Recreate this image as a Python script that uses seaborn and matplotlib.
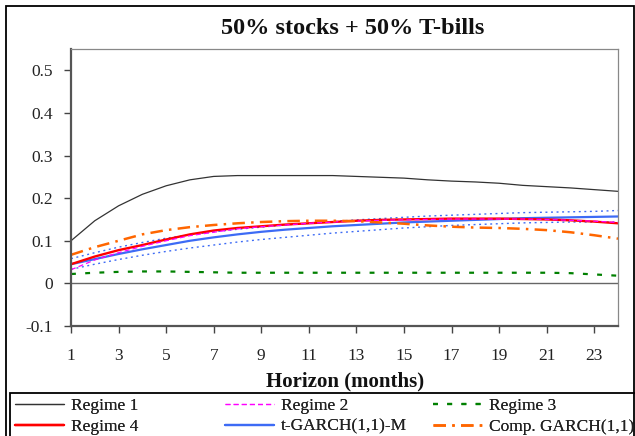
import matplotlib

matplotlib.use("Agg")

import matplotlib.pyplot as plt  # noqa: E402
import pandas as pd  # noqa: E402
import seaborn as sns  # noqa: E402
from matplotlib.patches import Rectangle  # noqa: E402

# Horizonte en meses
horizon = list(range(1, 25))

regime1 = [0.100, 0.147, 0.182, 0.209, 0.229, 0.243, 0.251, 0.253, 0.253, 0.253,
           0.253, 0.253, 0.251, 0.249, 0.247, 0.243, 0.240, 0.238, 0.235, 0.230,
           0.227, 0.224, 0.220, 0.216]
regime2 = [0.032, 0.055, 0.072, 0.087, 0.100, 0.112, 0.120, 0.128, 0.133, 0.137,
           0.141, 0.144, 0.146, 0.148, 0.149, 0.150, 0.151, 0.151, 0.151, 0.151,
           0.150, 0.148, 0.146, 0.143]
regime3 = [0.022, 0.025, 0.027, 0.028, 0.028, 0.027, 0.026, 0.025, 0.025, 0.025,
           0.025, 0.025, 0.025, 0.025, 0.025, 0.025, 0.025, 0.025, 0.025, 0.025,
           0.025, 0.024, 0.021, 0.018]
regime4 = [0.045, 0.063, 0.078, 0.090, 0.103, 0.115, 0.124, 0.130, 0.134, 0.138,
           0.141, 0.144, 0.147, 0.149, 0.150, 0.151, 0.152, 0.152, 0.152, 0.151,
           0.150, 0.148, 0.145, 0.141]
tgarch = [0.045, 0.057, 0.069, 0.080, 0.090, 0.100, 0.108, 0.115, 0.121, 0.126,
          0.130, 0.134, 0.137, 0.140, 0.143, 0.145, 0.147, 0.149, 0.151, 0.153,
          0.154, 0.155, 0.156, 0.157]
tgarch_up = [0.058, 0.072, 0.085, 0.096, 0.106, 0.114, 0.121, 0.127, 0.132, 0.137,
             0.141, 0.145, 0.149, 0.152, 0.155, 0.158, 0.160, 0.162, 0.164, 0.166,
             0.167, 0.168, 0.169, 0.171]
tgarch_lo = [0.033, 0.045, 0.056, 0.066, 0.075, 0.083, 0.090, 0.097, 0.103, 0.108,
             0.113, 0.118, 0.122, 0.126, 0.130, 0.133, 0.136, 0.138, 0.140, 0.142,
             0.143, 0.144, 0.144, 0.144]
comp_garch = [0.067, 0.085, 0.100, 0.115, 0.125, 0.132, 0.137, 0.141, 0.144, 0.146,
              0.147, 0.147, 0.146, 0.143, 0.140, 0.136, 0.133, 0.131, 0.130, 0.128,
              0.125, 0.120, 0.113, 0.105]

x_ticks = list(range(1, 24, 2))
y_ticks = [-0.1, 0.0, 0.1, 0.2, 0.3, 0.4, 0.5]

# Estilo por serie: (etiqueta, datos, color, grosor, linestyle)
series = [
    ("Regime 1", regime1, "#333333", 0.9, "-"),
    ("Regime 3", regime3, "#008000", 1.6, (0, (2.2, 4.2))),
    ("_up", tgarch_up, "#3d6bf5", 1.0, (0, (1.4, 2.6))),
    ("_lo", tgarch_lo, "#3d6bf5", 1.0, (0, (1.4, 2.6))),
    ("t-GARCH(1,1)-M", tgarch, "#3d6bf5", 1.6, "-"),
    ("Regime 4", regime4, "#ff0000", 1.7, "-"),
    ("Regime 2", regime2, "#ff00ff", 0.9, (0, (4.0, 2.5))),
    ("Comp. GARCH(1,1)", comp_garch, "#ff6600", 1.8, (0, (5, 2.5, 1, 2.5))),
]

sns.set_theme(style="white")
plt.rcParams["font.family"] = ["Liberation Serif", "DejaVu Serif"]

fig = plt.figure(figsize=(6.35, 4.36), dpi=100)
ax = fig.add_axes([71 / 635, 1 - 326 / 436, (618 - 71) / 635, (326 - 49) / 436])

handles = {}
for label, vals, color, lw, ls in series:
    df = pd.DataFrame({"h": horizon, "v": vals})
    sns.lineplot(data=df, x="h", y="v", ax=ax, color=color, linewidth=lw,
                 linestyle=ls, legend=False)
    handles[label] = ax.lines[-1]

ax.axhline(0, color="#666666", linewidth=1.0, zorder=0)

ax.set_xlim(1, 24)
ax.set_ylim(-0.1, 0.55)
ax.set_xticks(x_ticks)
ax.set_yticks(y_ticks)
ax.set_yticklabels([f"{t:g}" for t in y_ticks])
ax.set_xlabel("")
ax.set_ylabel("")
ax.tick_params(axis="both", which="both", direction="out", length=5, width=1,
               color="#444444", labelsize=12.5, labelcolor="#222222")
ax.tick_params(axis="x", pad=11, bottom=True)
ax.tick_params(axis="y", pad=8, left=True)

for side in ["left", "bottom"]:
    ax.spines[side].set_color("#555555")
    ax.spines[side].set_linewidth(1.6)
for side in ["top", "right"]:
    ax.spines[side].set_color("#888888")
    ax.spines[side].set_linewidth(0.9)

fig.text(353 / 635, 1 - 29 / 436, "50% stocks + 50% T-bills", ha="center",
         va="center", fontsize=17.5, fontweight="bold", color="#111111")
fig.text(345 / 635, 1 - 381 / 436, "Horizon (months)", ha="center",
         va="center", fontsize=15, fontweight="bold", color="#111111")

# Marco exterior y caja de la leyenda (se salen del lienzo como en el original)
fig.patches.append(Rectangle((6 / 635, -0.1), 628 / 635, 1.1 - 6 / 436,
                             transform=fig.transFigure, fill=False,
                             edgecolor="black", linewidth=1.3))
fig.patches.append(Rectangle((10 / 635, -0.1), 0.99, 0.1 + (436 - 393) / 436,
                             transform=fig.transFigure, fill=False,
                             edgecolor="black", linewidth=1.3))

# Leyenda en tres columnas fijas
columns = [("Regime 1", "Regime 4"), ("Regime 2", "t-GARCH(1,1)-M"),
           ("Regime 3", "Comp. GARCH(1,1)")]
col_x = [15, 225, 433]
for cx, labels in zip(col_x, columns):
    leg = fig.legend([handles[lab] for lab in labels], labels,
                     loc="upper left", bbox_to_anchor=(cx / 635, 1 - 398 / 436),
                     frameon=False, fontsize=12.5, handlelength=2.8,
                     handletextpad=0.4, labelspacing=0.25, borderaxespad=0,
                     borderpad=0)
    for t in leg.get_texts():
        t.set_color("#222222")
    fig.add_artist(leg)

fig.savefig("out.png", dpi=100)
